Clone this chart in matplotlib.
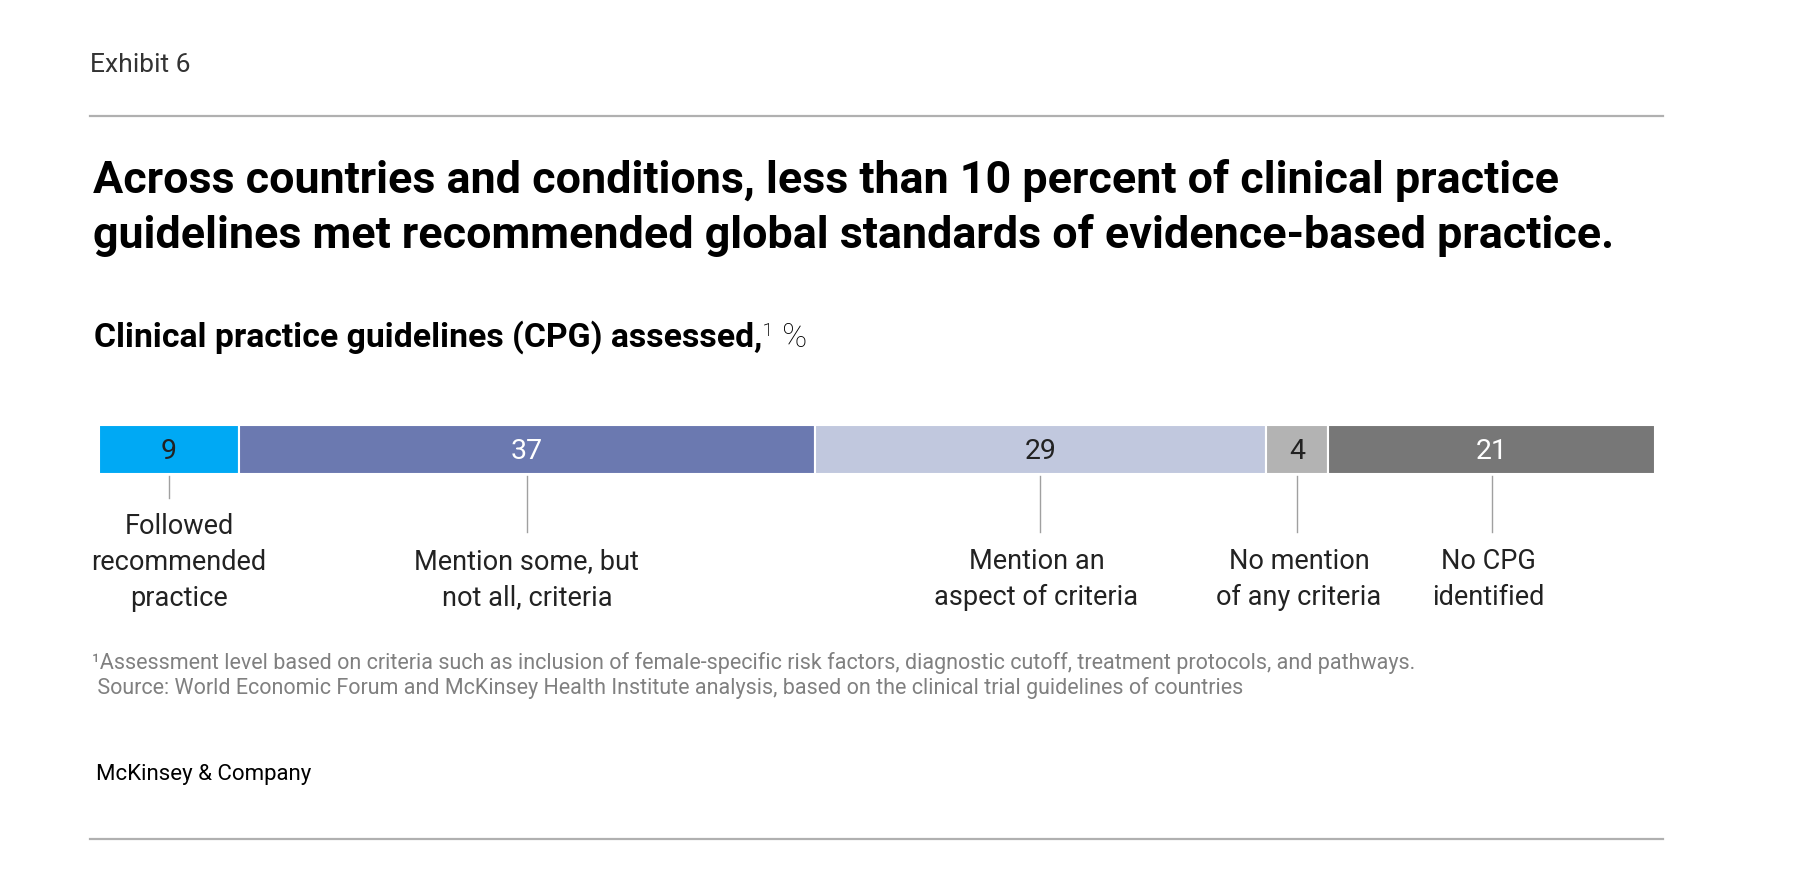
import matplotlib
matplotlib.use("Agg")
import matplotlib.pyplot as plt

# ---- data ----
categories = ["Followed\nrecommended\npractice", "Mention some, but\nnot all, criteria",
              "Mention an\naspect of criteria", "No mention\nof any criteria", "No CPG\nidentified"]
values = [9, 37, 29, 4, 21]
colors = ["#00A9F4", "#6B79B0", "#C1C8DE", "#B3B3B3", "#777777"]
value_text_colors = ["#222222", "#FFFFFF", "#222222", "#222222", "#FFFFFF"]

exhibit = "Exhibit 6"
title_lines = ["Across countries and conditions, less than 10 percent of clinical practice",
               "guidelines met recommended global standards of evidence-based practice."]
subtitle_bold = "Clinical practice guidelines (CPG) assessed,"
subtitle_rest = "¹ %"
footnote = ("¹Assessment level based on criteria such as inclusion of female-specific risk factors, "
            "diagnostic cutoff, treatment protocols, and pathways.")
source = " Source: World Economic Forum and McKinsey Health Institute analysis, based on the clinical trial guidelines of countries"
brand = "McKinsey & Company"

# layout-only nudges for the category labels (pixels)
label_dx_px = [10, 0, -4, 2, -3]

W, H = 1800, 888
plt.rcParams['font.family'] = ['Roboto', 'DejaVu Sans']
fig = plt.figure(figsize=(W / 100, H / 100), dpi=100)
fig.patch.set_facecolor("white")


def fx(px):
    return px / W


def fy(py):
    return 1 - py / H


# header / rules
fig.text(fx(90), fy(65), exhibit, fontsize=19, color="#333333", va="center", ha="left")
fig.add_artist(plt.Line2D([fx(90), fx(1663)], [fy(116), fy(116)], color="#B0B0B0", lw=1.6))
fig.add_artist(plt.Line2D([fx(90), fx(1663)], [fy(839), fy(839)], color="#B0B0B0", lw=1.6))

for i, line in enumerate(title_lines):
    fig.text(fx(93), fy(193 + 55 * i), line, fontsize=32.3, fontweight="bold", color="#000000",
             va="baseline", ha="left")

sub = fig.text(fx(94), fy(347), subtitle_bold, fontsize=24.3, fontweight="bold", color="#000000",
               va="baseline", ha="left")
fig.canvas.draw()
bb = sub.get_window_extent()
fig.text(bb.x1 / W, fy(347), subtitle_rest, fontsize=24.3, fontweight="light", color="#000000",
         va="baseline", ha="left")

# bar axes: pixel box x 99..1655, y 425..640
left_px, right_px, top_px, bot_px = 99, 1655, 425, 640
ax = fig.add_axes([fx(left_px), fy(bot_px), fx(right_px - left_px), (bot_px - top_px) / H])
ax.set_xlim(0, sum(values))
ax.set_ylim(bot_px - top_px, 0)
ax.axis("off")

bar_h = 49
lefts = [sum(values[:i]) for i in range(len(values))]
ax.barh([bar_h / 2] * len(values), values, left=lefts, height=bar_h, color=colors,
        edgecolor="white", linewidth=1.5, align="center")

unit_px = (right_px - left_px) / sum(values)
for i, (v, l) in enumerate(zip(values, lefts)):
    cx = l + v / 2
    ax.text(cx, bar_h / 2 + 2, str(v), ha="center", va="center", fontsize=20.5,
            color=value_text_colors[i])
    n_lines = categories[i].count("\n") + 1
    line_end = 73 if n_lines == 3 else 107
    ax.plot([cx, cx], [bar_h + 2, line_end], color="#A0A0A0", lw=1.0, clip_on=False)
    label_top = 98 if n_lines == 3 else 133
    ax.text(cx + label_dx_px[i] / unit_px, label_top - 10, categories[i], ha="center", va="top",
            fontsize=19.5, color="#222222", linespacing=1.42, clip_on=False)

fig.text(fx(92), fy(663), footnote, fontsize=15.5, color="#808080", va="center", ha="left")
fig.text(fx(92), fy(688), source, fontsize=15.5, color="#808080", va="center", ha="left")
fig.text(fx(96), fy(774), brand, fontsize=16, color="#000000", va="center", ha="left")

fig.savefig("out.png", dpi=100, facecolor="white")
